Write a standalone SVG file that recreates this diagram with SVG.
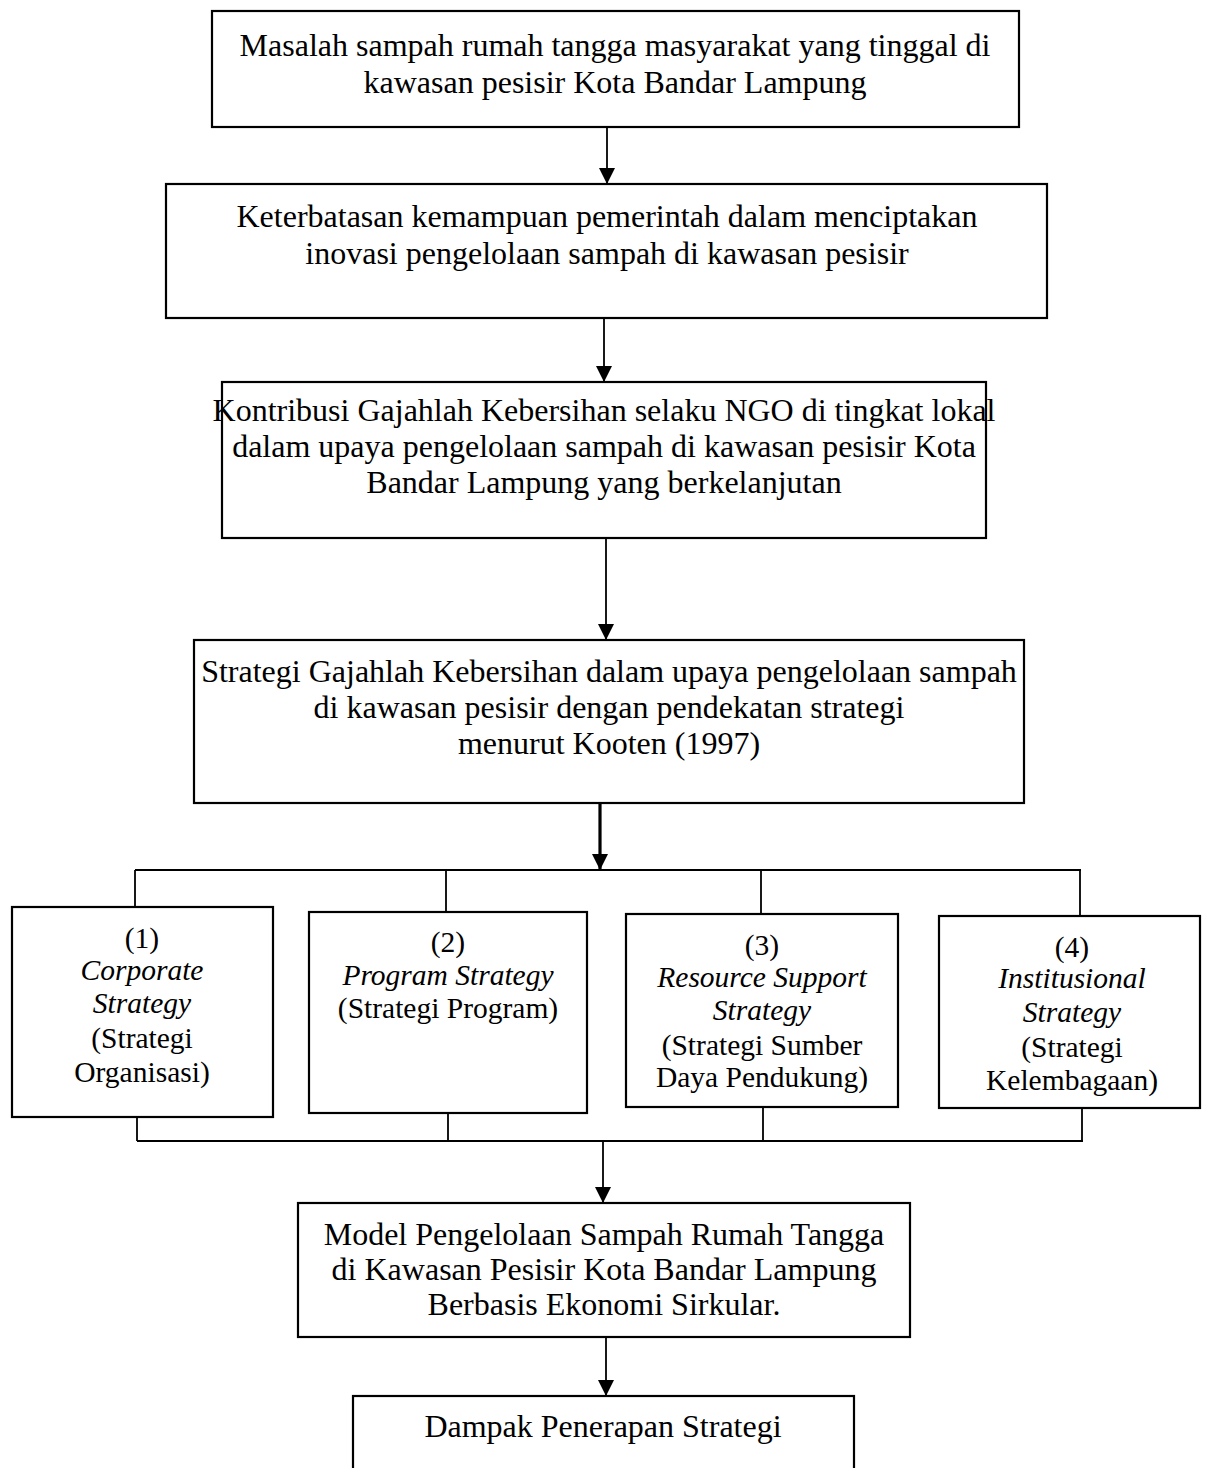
<svg xmlns="http://www.w3.org/2000/svg" width="1210" height="1468" viewBox="0 0 1210 1468">
  <style>
    .box { fill: #ffffff; stroke: #000000; stroke-width: 2.2; }
    .t { font-family: "Liberation Serif", "Times New Roman", serif; font-size: 32px; fill: #000000; text-anchor: middle; }
    .s { font-family: "Liberation Serif", "Times New Roman", serif; font-size: 29.5px; fill: #000000; text-anchor: middle; }
    .i { font-style: italic; }
    .ln { fill: none; stroke: #000000; stroke-width: 1.8; }
    .arr { fill: none; stroke: #000000; stroke-width: 1.8; marker-end: url(#ah); }
    .arrb { fill: none; stroke: #000000; stroke-width: 3.2; marker-end: url(#ah); }
  </style>
  <defs>
    <marker id="ah" markerUnits="userSpaceOnUse" markerWidth="16" markerHeight="16" refX="16" refY="8" orient="auto">
      <path d="M0,0 L16,8 L0,16 z" fill="#000000"/>
    </marker>
  </defs>
  <rect width="1210" height="1468" fill="#ffffff"/>

  <g id="connectors">
    <line class="arr" x1="607" y1="127" x2="607" y2="184"/>
    <line class="arr" x1="604" y1="318" x2="604" y2="382"/>
    <line class="arr" x1="606" y1="538" x2="606" y2="640"/>
    <line class="arrb" x1="600" y1="803" x2="600" y2="870"/>
    <path class="ln" d="M135,870 H1081 M135,870 V907 M446,870 V912 M761,870 V914 M1080,870 V916"/>
    <path class="ln" d="M137,1141 H1083 M137,1117 V1141 M448,1113 V1141 M763,1107 V1141 M1082,1108 V1141"/>
    <line class="arr" x1="603" y1="1141" x2="603" y2="1203"/>
    <line class="arr" x1="606" y1="1337" x2="606" y2="1396"/>
  </g>

  <g id="node-masalah">
    <rect class="box" x="212" y="11" width="807" height="116"/>
    <text class="t" x="615" y="56">Masalah sampah rumah tangga masyarakat yang tinggal di</text>
    <text class="t" x="615" y="93">kawasan pesisir Kota Bandar Lampung</text>
  </g>

  <g id="node-keterbatasan">
    <rect class="box" x="166" y="184" width="881" height="134"/>
    <text class="t" x="607" y="227">Keterbatasan kemampuan pemerintah dalam menciptakan</text>
    <text class="t" x="607" y="264">inovasi pengelolaan sampah di kawasan pesisir</text>
  </g>

  <g id="node-kontribusi">
    <rect class="box" x="222" y="382" width="764" height="156"/>
    <text class="t" x="604" y="421">Kontribusi Gajahlah Kebersihan selaku NGO di tingkat lokal</text>
    <text class="t" x="604" y="457">dalam upaya pengelolaan sampah di kawasan pesisir Kota</text>
    <text class="t" x="604" y="493">Bandar Lampung yang berkelanjutan</text>
  </g>

  <g id="node-strategi">
    <rect class="box" x="194" y="640" width="830" height="163"/>
    <text class="t" x="609" y="682">Strategi Gajahlah Kebersihan dalam upaya pengelolaan sampah</text>
    <text class="t" x="609" y="718">di kawasan pesisir dengan pendekatan strategi</text>
    <text class="t" x="609" y="754">menurut Kooten (1997)</text>
  </g>

  <g id="node-corporate">
    <rect class="box" x="12" y="907" width="261" height="210"/>
    <text class="s" x="142" y="948">(1)</text>
    <text class="s i" x="142" y="980">Corporate</text>
    <text class="s i" x="142" y="1013">Strategy</text>
    <text class="s" x="142" y="1048">(Strategi</text>
    <text class="s" x="142" y="1082">Organisasi)</text>
  </g>

  <g id="node-program">
    <rect class="box" x="309" y="912" width="278" height="201"/>
    <text class="s" x="448" y="952">(2)</text>
    <text class="s i" x="448" y="985">Program Strategy</text>
    <text class="s" x="448" y="1018">(Strategi Program)</text>
  </g>

  <g id="node-resource">
    <rect class="box" x="626" y="914" width="272" height="193"/>
    <text class="s" x="762" y="955">(3)</text>
    <text class="s i" x="762" y="987">Resource Support</text>
    <text class="s i" x="762" y="1020">Strategy</text>
    <text class="s" x="762" y="1055">(Strategi Sumber</text>
    <text class="s" x="762" y="1087">Daya Pendukung)</text>
  </g>

  <g id="node-institusional">
    <rect class="box" x="939" y="916" width="261" height="192"/>
    <text class="s" x="1072" y="957">(4)</text>
    <text class="s i" x="1072" y="988">Institusional</text>
    <text class="s i" x="1072" y="1022">Strategy</text>
    <text class="s" x="1072" y="1057">(Strategi</text>
    <text class="s" x="1072" y="1090">Kelembagaan)</text>
  </g>

  <g id="node-model">
    <rect class="box" x="298" y="1203" width="612" height="134"/>
    <text class="t" x="604" y="1245">Model Pengelolaan Sampah Rumah Tangga</text>
    <text class="t" x="604" y="1280">di Kawasan Pesisir Kota Bandar Lampung</text>
    <text class="t" x="604" y="1315">Berbasis Ekonomi Sirkular.</text>
  </g>

  <g id="node-dampak">
    <rect class="box" x="353" y="1396" width="501" height="90"/>
    <text class="t" x="603" y="1437">Dampak Penerapan Strategi</text>
  </g>
</svg>
